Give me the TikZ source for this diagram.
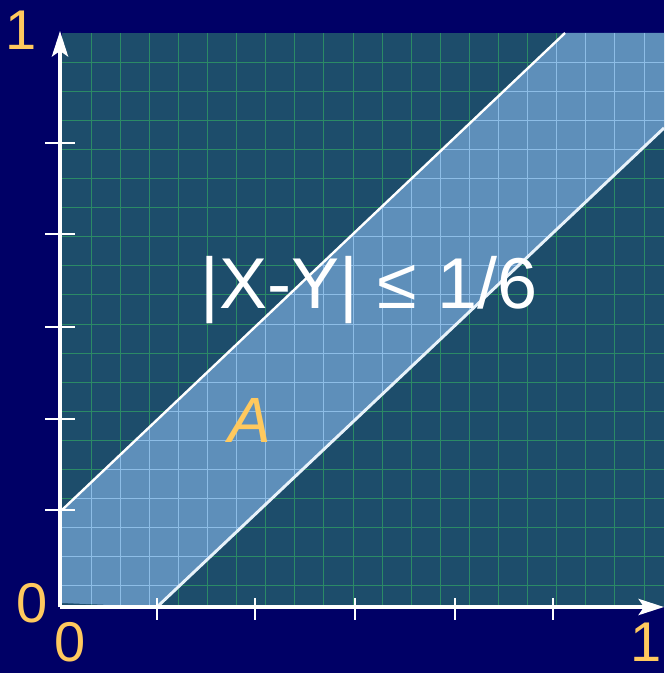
\documentclass[tikz,border=0pt]{standalone}
\usepackage{fontspec}
\setmainfont{Liberation Sans}
\usetikzlibrary{arrows.meta}
\definecolor{navy}{HTML}{000066}
\definecolor{plotteal}{HTML}{1D4D6B}
\definecolor{gridgreen}{HTML}{2B8A66}
\definecolor{bandblue}{HTML}{5E8FBA}
\definecolor{bandgrid}{HTML}{8DBDE6}
\definecolor{labelyellow}{HTML}{FFC95E}

\begin{document}
\begin{tikzpicture}[x=0.75pt,y=-0.75pt,
  axis/.style={white,line width=3pt,-{Stealth[length=19pt,width=12pt,inset=4pt]}},
  tick/.style={white,line width=1.6pt},
  lbl/.style={text=labelyellow,anchor=base,inner sep=0pt,font=\fontsize{42}{42}\selectfont}]
  \fill[navy] (0,0) rectangle (664,673);
  \useasboundingbox (0,0) rectangle (664,673);
  % plot area and grid
  \fill[plotteal] (62,33) rectangle (664,607);
  \foreach \k in {1,...,20}
    \draw[gridgreen,line width=0.75pt] ({62+29.1*\k},33) -- ({62+29.1*\k},607);
  \foreach \k in {1,...,19}
    \draw[gridgreen,line width=0.75pt] (62,{33+29.1*\k}) -- (664,{33+29.1*\k});
  % the band A
  \fill[bandblue] (62,510) -- (565,33) -- (664,33) -- (664,128) -- (157,607) -- (62,603) -- cycle;
  \begin{scope}
    \clip (62,510) -- (565,33) -- (664,33) -- (664,128) -- (157,607) -- (62,603) -- cycle;
    \foreach \k in {1,...,20}
      \draw[bandgrid,line width=0.75pt] ({62+29.1*\k},33) -- ({62+29.1*\k},607);
    \foreach \k in {1,...,19}
      \draw[bandgrid,line width=0.75pt] (62,{33+29.1*\k}) -- (664,{33+29.1*\k});
  \end{scope}
  \coordinate (upA) at (62,510);
  \coordinate (upB) at (565,33);
  \coordinate (loA) at (157,607);
  \coordinate (loB) at (664,128);
  \draw[white,line width=1.8pt] (upA) -- (upB);
  \draw[white!80!bandgrid,line width=2.2pt] (loA) -- (loB);
  % axes
  \coordinate (origin) at (60,607);
  \coordinate (ytip) at (60,31);
  \coordinate (xtip) at (664,607);
  \draw[axis] (origin) -- (ytip);
  \draw[axis] (origin) -- (xtip);
  \foreach \y in {143,234,327,419,510}
    \draw[tick] (45,\y) -- (75,\y);
  \foreach \x in {157,255,355,455,553}
    \draw[tick] (\x,598) -- (\x,620);
  % labels
  \node[lbl] (yone) at (21,50) {1};
  \node[lbl] (yzero) at (32,622) {0};
  \node[lbl] (xzero) at (70,661) {0};
  \node[lbl] (xone) at (646,661) {1};
  \node[lbl,font=\fontsize{48}{48}\selectfont\itshape] (area) at (250,442) {A};
  \node[text=white,anchor=base,font=\fontsize{54}{54}\selectfont] (event) at (369,308) {|X-Y| ≤ 1/6};
\end{tikzpicture}
\end{document}
